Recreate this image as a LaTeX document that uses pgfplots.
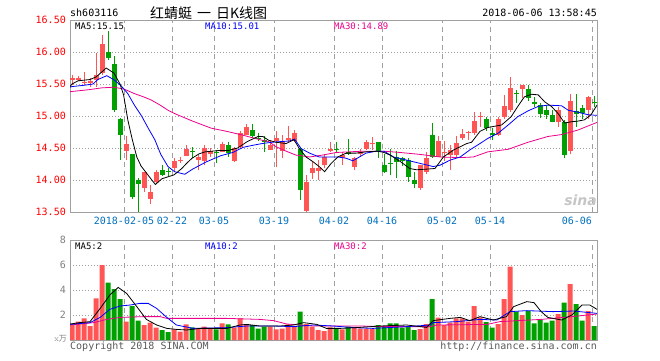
\documentclass[border=0pt]{standalone}
\usepackage{pgfplots}
\pgfplotsset{compat=1.18}
\usepackage{pgfplotstable}
\usepackage{fontspec}
\setmonofont{DejaVu Sans Mono}
\newfontfamily\cjk{Noto Sans CJK SC}
\newfontfamily\sinafont{DejaVu Sans}
\definecolor{kred}{RGB}{255,85,85}
\definecolor{kgreen}{RGB}{0,160,0}
\definecolor{framegray}{RGB}{160,160,160}
\definecolor{datelbl}{RGB}{0,112,192}
\definecolor{txtgray}{RGB}{90,90,90}

\pgfplotstableread{
x o h l c v
0 15.56 15.64 15.48 15.59 1.20
1 15.57 15.63 15.54 15.60 1.47
2 15.51 15.68 15.48 15.53 1.73
3 15.51 15.59 15.46 15.54 1.12
4 15.56 15.98 15.46 15.64 3.33
5 15.67 16.27 15.64 16.12 6.00
9 14.46 14.68 14.31 14.56 1.47
12 13.88 14.13 13.82 14.13 1.20
13 13.71 13.92 13.62 13.82 1.39
14 13.97 14.15 13.93 14.13 0.99
17 14.19 14.35 14.13 14.29 0.85
18 14.29 14.36 14.26 14.32 0.67
19 14.38 14.54 14.37 14.49 1.25
21 14.32 14.39 14.15 14.36 0.93
22 14.29 14.54 14.23 14.50 1.07
23 14.40 14.50 14.36 14.45 0.93
25 14.44 14.59 14.43 14.56 1.33
27 14.29 14.52 14.28 14.50 0.99
28 14.51 14.77 14.50 14.73 1.73
29 14.71 14.87 14.70 14.83 1.28
33 14.47 14.63 14.47 14.54 1.07
34 14.61 14.76 14.21 14.66 0.85
35 14.45 14.70 14.34 14.61 0.91
36 14.63 14.85 14.60 14.65 1.25
37 14.61 14.78 14.60 14.74 1.12
39 13.52 14.08 13.50 13.97 1.28
40 14.11 14.28 14.02 14.19 1.07
41 14.14 14.32 14.00 14.19 0.80
42 14.23 14.41 14.18 14.36 0.72
43 14.45 14.59 14.44 14.49 1.01
45 14.34 14.44 14.24 14.39 0.85
47 14.21 14.36 14.16 14.34 0.99
48 14.40 14.49 14.36 14.44 0.91
49 14.49 14.63 14.47 14.59 0.91
50 14.56 14.67 14.47 14.58 0.91
58 13.87 14.24 13.85 14.23 0.88
59 14.13 14.44 14.10 14.34 1.28
61 14.36 14.68 14.36 14.61 1.79
62 14.42 14.61 14.30 14.44 1.20
63 14.39 14.55 14.16 14.47 1.39
64 14.39 14.69 14.36 14.58 1.73
65 14.65 14.80 14.63 14.72 1.73
66 14.73 14.77 14.63 14.75 1.47
67 14.74 15.06 14.71 14.92 2.72
68 14.98 15.06 14.83 15.00 1.81
71 14.70 14.99 14.68 14.95 1.28
72 14.99 15.33 14.96 15.15 3.28
73 15.09 15.61 15.07 15.43 5.87
75 15.42 15.49 15.28 15.48 2.00
81 14.91 15.14 14.83 15.09 2.08
83 14.45 15.34 14.40 15.23 4.48
86 15.09 15.32 14.95 15.29 2.32
}\upT

\pgfplotstableread{
x o h l c v
6 16.00 16.33 15.88 15.90 4.59
7 15.82 15.94 15.07 15.09 4.08
8 14.96 14.97 14.31 14.70 3.28
10 14.40 14.40 13.70 13.74 2.72
11 14.00 14.03 13.50 13.93 1.55
15 14.15 14.24 14.06 14.08 0.80
16 14.14 14.19 14.06 14.12 0.64
20 14.45 14.52 14.34 14.43 1.01
24 14.44 14.47 14.27 14.42 0.85
26 14.55 14.60 14.36 14.42 1.25
30 14.78 14.87 14.65 14.69 1.20
31 14.66 14.74 14.61 14.64 0.91
32 14.63 14.68 14.43 14.59 1.07
38 14.49 14.50 13.69 13.84 2.27
44 14.49 14.59 14.42 14.47 0.93
46 14.43 14.64 14.39 14.41 1.07
51 14.59 14.59 14.34 14.45 1.20
52 14.23 14.41 14.11 14.13 1.07
53 14.27 14.49 14.08 14.25 1.33
54 14.36 14.45 14.03 14.28 1.33
55 14.34 14.36 14.22 14.29 0.99
56 14.31 14.34 13.97 14.05 1.07
57 14.00 14.13 13.87 13.94 0.80
60 14.70 14.89 14.34 14.36 3.28
69 14.95 14.99 14.77 14.81 1.44
70 14.73 14.81 14.63 14.70 0.99
74 15.36 15.41 15.21 15.34 2.27
76 15.42 15.48 15.24 15.28 2.32
77 15.22 15.30 15.14 15.19 1.33
78 15.17 15.21 14.97 15.03 1.65
79 15.09 15.17 14.96 15.02 1.39
80 15.02 15.09 14.90 14.91 1.55
82 14.91 14.94 14.35 14.39 2.99
84 15.08 15.34 14.83 15.03 2.88
85 15.13 15.17 14.95 15.04 1.55
87 15.22 15.32 15.14 15.20 1.12
}\downT

\pgfplotsset{
  kax/.style={scale only axis, width=527pt, xmin=-0.3333, xmax=87.5,
    axis line style={framegray}, major tick length=0pt,
    xtick={8.667,16.667,23.667,33.667,43.667,51.667,61.667,69.667,86.667},
    xmajorgrids, ymajorgrids,
    x grid style={framegray, dash pattern=on 5pt off 4pt},
    y grid style={framegray, dash pattern=on 1pt off 2pt},
    clip=true},
  wick/.style={draw=none, mark=none, forget plot, error bars/.cd, y dir=plus, y explicit, error mark=none,
    error bar style={draw=#1, line width=1pt}},
  body/.style={draw=none, mark=none, forget plot, error bars/.cd, y dir=plus, y explicit, error mark=none,
    error bar style={draw=#1, line width=5pt}},
}

\begin{document}
\begin{tikzpicture}[x=1pt,y=1pt]
\fill[white] (0,0) rectangle (660,-360);
\path[use as bounding box] (0,0) rectangle (660,-360);

% ---------- price panel ----------
\begin{axis}[kax, at={(70pt,-20pt)}, anchor=north west, height=192pt,
  ymin=13.5, ymax=16.5,
  ytick={13.5,14,14.5,15,15.5,16,16.5},
  yticklabels={13.50,14.00,14.50,15.00,15.50,16.00,16.50},
  yticklabel style={font=\ttfamily\fontsize{10}{10}\selectfont, text=red, anchor=east, inner sep=0pt, xshift=-4pt},
  xticklabels={2018-02-05,02-22,03-05,03-19,04-02,04-16,05-02,05-14,\makebox[0pt][r]{06-06}},
  xticklabel style={font=\ttfamily\fontsize{10}{10}\selectfont, text=datelbl, anchor=north, inner sep=0pt, yshift=-5pt},
]
\addplot[wick=kred] table[x=x, y=l, y error plus expr=\thisrow{h}-\thisrow{l}] {\upT};
\addplot[body=kred] table[x=x, y=o, y error plus expr=\thisrow{c}-\thisrow{o}] {\upT};
\addplot[wick=kgreen] table[x=x, y=l, y error plus expr=\thisrow{h}-\thisrow{l}] {\downT};
\addplot[body=kgreen] table[x=x, y=c, y error plus expr=\thisrow{o}-\thisrow{c}] {\downT};

% MA30
\addplot[magenta, line width=0.8pt] coordinates {
(-0.33,15.38) (2.7,15.41) (5,15.44) (7,15.45) (8.7,15.42) (10.4,15.35) (11.9,15.30) (13.2,15.25)
(14.7,15.17) (16,15.09) (17.3,15.03) (20.1,14.92) (23.2,14.81) (25.8,14.76) (28.5,14.70) (31.3,14.63)
(32.8,14.60) (34,14.52) (35.7,14.45) (37.3,14.39) (39.6,14.36) (41.8,14.39) (44,14.43) (46.2,14.44)
(48.4,14.45) (52,14.45) (54.7,14.43) (58,14.40) (61.3,14.36) (64.7,14.35) (66.9,14.36) (69.3,14.44)
(72.7,14.48) (76,14.59) (79.3,14.68) (81.6,14.71) (84.3,14.78) (87.5,14.90)};
% MA10
\addplot[blue, line width=0.8pt] coordinates {
(-0.33,15.45) (0,15.46) (2,15.48) (3.5,15.50) (4.3,15.57) (5.8,15.63) (7.1,15.56) (8.2,15.47) (9.3,15.35)
(10.4,15.17) (11.6,15.00) (12.7,14.81) (13.8,14.63) (14.8,14.40) (16,14.21) (17.1,14.13) (18.8,14.09)
(20.1,14.17) (22.3,14.28) (24.8,14.38) (26.8,14.43) (28.5,14.51) (30,14.54) (31.7,14.57) (33.3,14.59)
(34.7,14.60) (36.2,14.61) (37.1,14.64) (38.2,14.49) (39.6,14.42) (41.2,14.36) (42.9,14.36) (44.3,14.36)
(45.7,14.34) (46.8,14.30) (47.9,14.36) (49,14.42) (50.7,14.45) (52,14.45) (53.6,14.36) (55.8,14.31)
(58,14.26) (60.2,14.21) (61.3,14.23) (63,14.31) (64.7,14.36) (66.3,14.47) (68,14.57) (69.3,14.65)
(71,14.73) (72.7,14.86) (74.3,14.99) (76,15.08) (77.7,15.15) (79.3,15.17) (81.6,15.16) (82.7,15.09)
(84.3,15.06) (86,15.02) (87.5,15.01)};
% MA5
\addplot[black, line width=0.8pt] coordinates {
(-0.33,15.46) (0,15.50) (1,15.55) (2,15.56) (3,15.57) (4,15.61) (5,15.69) (5.7,15.75) (7,15.67)
(8,15.50) (8.6,15.33) (9.3,14.94) (10,14.65) (10.8,14.36) (11.5,14.22) (12.4,14.11) (13.3,14.00)
(13.9,13.93) (15,14.02) (16,14.05) (17,14.08) (18.3,14.18) (19.1,14.26) (20,14.34) (21.2,14.41)
(22.2,14.44) (24.4,14.46) (26,14.46) (27.6,14.50) (29.2,14.60) (31,14.68) (31.8,14.68) (32.8,14.62)
(34,14.59) (35.7,14.57) (37,14.63) (37.9,14.49) (39,14.36) (40.1,14.29) (41.2,14.21) (42.1,14.13)
(43.2,14.26) (44.3,14.36) (45.7,14.42) (47.3,14.42) (49,14.44) (51,14.45) (52,14.43) (53,14.39)
(54.7,14.29) (56.3,14.18) (57.4,14.16) (59.1,14.17) (60.5,14.18) (61.9,14.36) (63.6,14.47) (65.8,14.57)
(66.6,14.59) (68,14.76) (69.3,14.82) (71.6,14.86) (73.2,14.99) (74.3,15.15) (75.4,15.30) (76.6,15.34)
(77.7,15.33) (78.8,15.22) (79.9,15.15) (81,15.04) (82.1,14.89) (83.2,14.91) (84.3,14.92) (85.4,14.94)
(86.5,15.02) (87.5,15.17)};
\end{axis}

% ---------- volume panel ----------
\begin{axis}[kax, at={(70pt,-240pt)}, anchor=north west, height=100pt,
  ymin=0, ymax=8, ytick={2,4,6,8}, yticklabels={2,4,6,8},
  yticklabel style={font=\ttfamily\fontsize{10}{10}\selectfont, text=gray, anchor=east, inner sep=0pt, xshift=-4pt},
  xticklabels={},
]
\addplot[ybar, bar width=5pt, bar shift=0pt, fill=kred, draw=none, forget plot] table[x=x, y=v] {\upT};
\addplot[ybar, bar width=5pt, bar shift=0pt, fill=kgreen, draw=none, forget plot] table[x=x, y=v] {\downT};
% VMA30
\addplot[magenta, line width=0.8pt] coordinates {
(-0.33,1.20) (3.6,1.39) (5.8,1.65) (8,1.81) (11.9,1.87) (14.7,1.87) (15.8,1.73) (25.8,1.73) (31.3,1.65)
(33.6,1.55) (35.8,1.28) (40.2,1.12) (48,1.12) (52,1.07) (59.7,1.07) (60.8,1.20) (69.2,1.25) (71.3,1.47)
(78.2,1.65) (83.3,1.87) (87.5,2.08)};
% VMA10
\addplot[blue, line width=0.8pt] coordinates {
(-0.33,1.25) (3,1.39) (4.7,1.81) (6.3,2.45) (8,2.72) (9.7,2.80) (11.3,2.93) (12.7,2.93) (14.1,2.53)
(15.8,1.81) (17.4,1.20) (20.2,0.93) (25.8,0.99) (29.1,1.12) (33.6,1.12) (36.9,1.07) (40.2,1.20)
(43.6,1.12) (46.9,0.99) (50.2,0.93) (55.8,1.07) (59.7,1.20) (60.2,1.39) (64.1,1.47) (68,1.65)
(70.8,1.60) (73,2.27) (75.8,2.35) (80.2,2.27) (83.6,2.32) (87.5,2.13)};
% VMA5
\addplot[black, line width=0.8pt] coordinates {
(-0.33,1.28) (1.3,1.39) (3,1.47) (4.7,2.53) (6.3,3.60) (7.7,4.21) (9.1,3.73) (10.8,2.67) (12.4,1.65)
(14.1,1.20) (15.8,0.93) (17.4,0.85) (19.1,0.80) (21.3,0.93) (25.8,0.93) (28,1.20) (29.1,1.25)
(31.3,1.12) (34.7,1.12) (36.9,1.20) (38.6,1.39) (40.8,1.25) (42.4,0.93) (44.7,0.93) (48,1.01)
(51.3,1.12) (55.8,1.20) (59.1,1.01) (60.2,1.55) (63,1.73) (64.7,1.81) (66.3,1.55) (68,1.87)
(70.2,1.60) (72.4,1.87) (73.6,2.67) (75.8,3.07) (77,2.99) (78.2,2.27) (79.3,1.81) (81.6,1.60)
(83.3,2.00) (85,2.80) (86.3,2.80) (87.5,2.45)};
\end{axis}

% ---------- texts ----------
\node[anchor=west, inner sep=0pt, font=\ttfamily\fontsize{10}{10}\selectfont] at (70,-13) {sh603116};
\node[anchor=west, inner sep=0pt, font=\cjk\fontsize{14}{14}\selectfont] at (150,-13) {红蜻蜓\hspace{5pt}一\hspace{5pt}日K线图};
\node[anchor=east, inner sep=0pt, font=\ttfamily\fontsize{10}{10}\selectfont] at (597,-13) {2018-06-06 13:58:45};

\node[anchor=west, inner sep=0pt, font=\ttfamily\fontsize{9}{9}\selectfont] at (75,-26) {MA5:15.15};
\node[anchor=west, inner sep=0pt, font=\ttfamily\fontsize{9}{9}\selectfont, text=blue] at (205,-26) {MA10:15.01};
\node[anchor=west, inner sep=0pt, font=\ttfamily\fontsize{9}{9}\selectfont, text=magenta] at (334,-26) {MA30:14.89};

\node[anchor=west, inner sep=0pt, font=\ttfamily\fontsize{9}{9}\selectfont] at (75,-246) {MA5:2};
\node[anchor=west, inner sep=0pt, font=\ttfamily\fontsize{9}{9}\selectfont, text=blue] at (205,-246) {MA10:2};
\node[anchor=west, inner sep=0pt, font=\ttfamily\fontsize{9}{9}\selectfont, text=magenta] at (334,-246) {MA30:2};

\node[anchor=east, inner sep=0pt, font=\fontsize{8}{8}\selectfont, text=gray] at (67,-339) {x{\cjk 万}};

\node[anchor=west, inner sep=0pt, font=\ttfamily\fontsize{10}{10}\selectfont, text=txtgray] at (70,-347) {Copyright 2018 SINA.COM};
\node[anchor=east, inner sep=0pt, font=\ttfamily\fontsize{10}{10}\selectfont, text=txtgray] at (597,-347) {http://finance.sina.com.cn};

\node[anchor=south east, inner sep=0pt, font=\sinafont\bfseries\itshape\fontsize{14}{14}\selectfont, text=gray!45] at (597,-206) {sina};
\end{tikzpicture}
\end{document}
